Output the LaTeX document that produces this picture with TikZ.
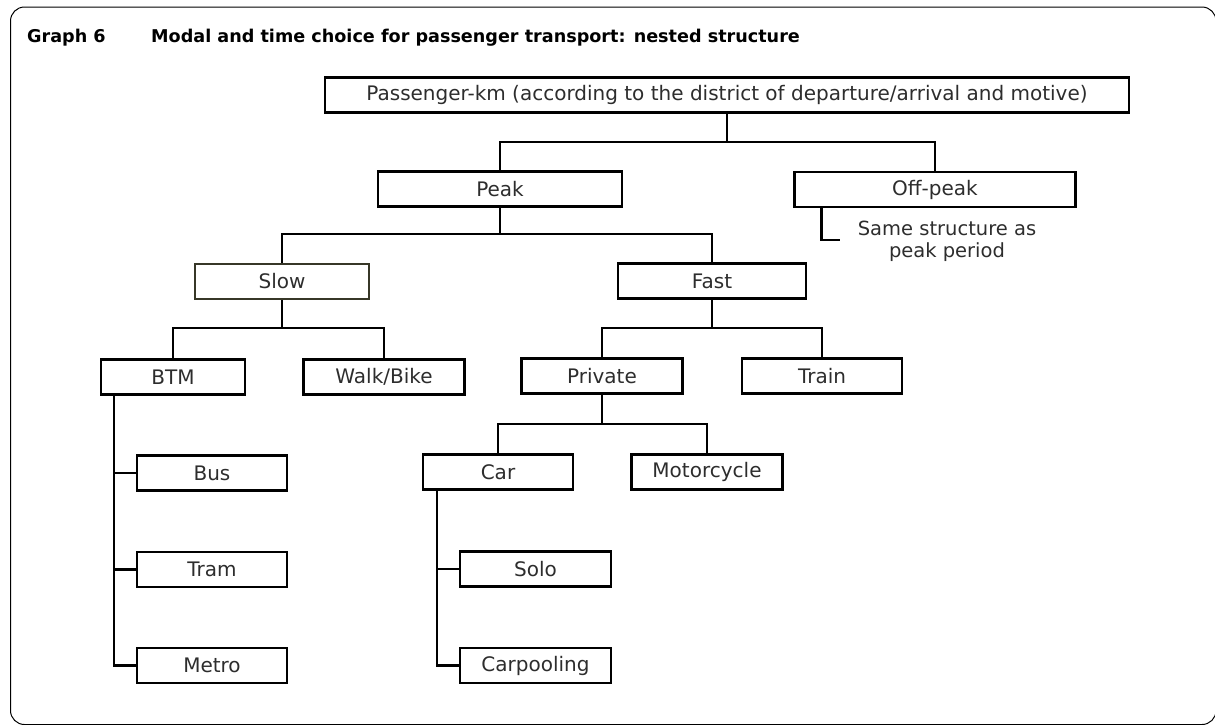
\documentclass[tikz,border=0pt]{standalone}
\usepackage{fontspec}
\setmainfont{DejaVu Sans}
\usetikzlibrary{calc}

\definecolor{boxtext}{RGB}{45,45,45}
\definecolor{slowline}{RGB}{55,55,40}

\begin{document}
\begin{tikzpicture}[x=1pt,y=-1pt,
  box/.style={draw=black, line width=2.2pt, minimum height=35pt, inner sep=0pt,
    text=boxtext, font=\fontsize{20}{23}\selectfont},
  link/.style={black, line width=2.2pt},
  titletext/.style={anchor=west, inner sep=0pt, font=\bfseries\fontsize{17.6}{20}\selectfont}]
\useasboundingbox (0,0) rectangle (1215,724);
\clip (0,0) rectangle (1215,724);
\draw[line width=1pt, rounded corners=14pt] (10.5,7) rectangle (1216,724.5);

% title
\node[titletext] (graphno) at (27,38) {Graph 6};
\node[titletext] (graphtitle) at (151,38) {Modal and time choice for passenger transport: nested structure};

% level 0 and 1
\node[box, minimum width=804pt] (passkm) at (727,95) {Passenger-km (according to the district of departure/arrival and motive)};
\node[box, minimum width=244pt] (peak) at (500,189) {Peak};
\node[box, minimum width=281pt] (offpeak) at (935,189.5) {Off-peak};
\node[text=boxtext, align=center, font=\fontsize{19.5}{22}\selectfont] (samenote) at (947,241) {Same structure as\\peak period};

% level 2 and 3
\node[box, minimum width=174pt, draw=slowline, line width=1.6pt] (slow) at (282,281.5) {Slow};
\node[box, minimum width=188pt] (fast) at (712,281) {Fast};
\node[box, minimum width=144pt] (btm) at (173,377) {BTM};
\node[box, minimum width=161pt] (walkbike) at (384,377) {Walk/Bike};
\node[box, minimum width=161pt] (private) at (602,376) {Private};
\node[box, minimum width=160pt] (train) at (822,376) {Train};

% level 4 and 5
\node[box, minimum width=150pt] (car) at (498,472) {Car};
\node[box, minimum width=151pt] (motorcycle) at (707,472) {Motorcycle};
\node[box, minimum width=150pt] (bus) at (212,473) {Bus};
\node[box, minimum width=150pt] (tram) at (212,569.5) {Tram};
\node[box, minimum width=150pt] (metro) at (212,665.5) {Metro};
\node[box, minimum width=151pt] (solo) at (535.5,569) {Solo};
\node[box, minimum width=151pt] (carpooling) at (535.5,665.5) {Carpooling};

% splits
\coordinate (topsplit) at (727,142);
\coordinate (peaksplit) at (500,234);
\coordinate (slowsplit) at (282,328);
\coordinate (fastsplit) at (712,328);
\coordinate (privsplit) at (602,424);
\coordinate (noteend) at (840,240);

\draw[link] (passkm.south) -- (topsplit);
\draw[link] (peak.north) |- (topsplit) -| (offpeak.north);
\draw[link] ([xshift=28pt]offpeak.south west) |- (noteend);

\draw[link] (peak.south) -- (peaksplit);
\draw[link] (slow.north) |- (peaksplit) -| (fast.north);

\draw[link] (slow.south) -- (slowsplit);
\draw[link] (btm.north) |- (slowsplit) -| (walkbike.north);
\draw[link] (fast.south) -- (fastsplit);
\draw[link] (private.north) |- (fastsplit) -| (train.north);

\draw[link] (private.south) -- (privsplit);
\draw[link] (car.north) |- (privsplit) -| (motorcycle.north);

\foreach \n in {bus,tram,metro}
  \draw[link] ([xshift=14pt]btm.south west) |- (\n.west);
\foreach \n in {solo,carpooling}
  \draw[link] ([xshift=15pt]car.south west) |- (\n.west);
\end{tikzpicture}
\end{document}
